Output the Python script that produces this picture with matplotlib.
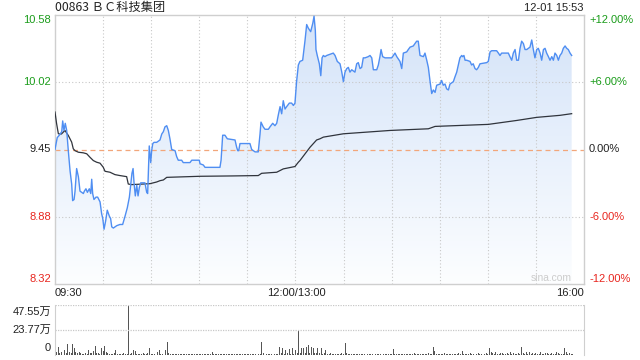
import numpy as np
import matplotlib
matplotlib.use("Agg")
import matplotlib.pyplot as plt
from matplotlib.colors import LinearSegmentedColormap

# ---------------- data ----------------
title = "00863 ＢＣ科技集团"
stamp = "12-01 15:53"
prev_close = 9.45
price_ticks = [10.58, 10.02, 9.45, 8.88, 8.32]
pct_ticks = ["+12.00%", "+6.00%", "0.00%", "-6.00%", "-12.00%"]
time_labels = ["09:30", "12:00/13:00", "16:00"]
vol_labels = ["47.55万", "23.77万", "0"]
vol_max = 47.55

# minutes since 09:30 (trading minutes, lunch removed)
t_price = [0, 1.4, 2.7, 4.2, 4.8, 5.6, 6.4, 7.3, 8.3, 9.4, 10.4, 11, 11.9, 12.5, 13.5, 14.6,
           15.6, 16.6, 17.7, 18.3, 19.3, 20.2, 21.4, 22.3, 22.9, 23.5, 24.3, 25.6, 26.6, 28.1,
           29.1, 29.8, 30.6, 31.6, 32.6, 33.9, 34.7, 35.4, 36.4, 37.4, 38.5, 40.5, 42.2, 43.7,
           45.1, 46.4, 47.2, 48, 48.7, 49.3, 50.1, 51, 51.8, 52.6, 53.5, 54.7, 56.1, 57.2, 57.8,
           58.6, 58.8, 59.7, 60.3, 61, 61.8, 63.4, 65.5, 66.6, 67.6, 68.6, 69.7, 70.7, 71.7,
           72.8, 74.9, 75.9, 76.9, 79, 80, 84.2, 85.3, 90, 90.5, 92.5, 93.6, 102.9, 103.6, 104.6,
           106, 107.5, 112.3, 113.3, 114, 114.6, 115.4, 120.6, 121.6, 122.7, 124.8, 126.8, 127.9,
           128.5, 129.9, 131, 133.1, 134.1, 135.8, 137.2, 138.3, 139.3, 140.4, 141.4, 142.4,
           143.5, 144.5, 146.2, 147.6, 148.7, 149.7, 150.7, 151.8, 152.8, 154.5, 156, 157, 158,
           159.5, 160.8, 161.6, 162.4, 162.8, 163.6, 164.9, 165.8, 166.6, 167.4, 168.4, 169.5,
           173.6, 174.7, 176.1, 177.8, 178.9, 179.9, 180.9, 182, 183, 184, 185.1, 187.1, 188.2,
           189.2, 190.3, 191.3, 192.3, 193.4, 195.4, 196.5, 197.6, 198.6, 200.7, 201.7, 202.7,
           203.4, 204.4, 205.9, 210, 211.1, 212.1, 213.2, 215.2, 216.3, 217.3, 219.4, 220.4,
           221.5, 223.5, 225.6, 226.6, 227.7, 229.8, 230.8, 231.9, 232.9, 233.9, 235, 236, 237.1,
           238.1, 240.2, 241.2, 242.2, 243.3, 244.3, 245.4, 246.4, 248.5, 249.5, 250.6, 251.6,
           252.6, 253.7, 254.3, 255.1, 255.8, 256.8, 258.9, 259.9, 260.9, 262, 263, 264.1, 265.1,
           269.3, 270.3, 271.4, 272.4, 275.5, 276.6, 277.6, 278.6, 280.7, 282.8, 283.8, 284.9,
           285.9, 287, 288, 289.1, 290.1, 291.1, 292.2, 293.2, 294.3, 296.3, 297.4, 298.4, 299.4,
           300.5, 301.5, 302.6, 303.6, 304.7, 305.7, 306.7, 307.8, 308.8, 309.9, 310.9, 311.9,
           313, 314, 315, 316.1, 317.1, 318.2, 319.2, 320.2, 321.3, 322.3]
price = [9.45, 9.55, 9.57, 9.60, 9.69, 9.61, 9.67, 9.61, 9.44, 9.27, 9.16, 9.02, 9.03, 9.10, 9.29, 9.22,
         9.10, 9.09, 9.08, 9.10, 9.12, 9.09, 9.12, 9.08, 9.20, 9.08, 9.03, 9.05, 9.05, 9.01,
         8.91, 8.87, 8.78, 8.85, 8.94, 8.89, 8.87, 8.80, 8.79, 8.80, 8.81, 8.82, 8.82, 8.89,
         8.96, 9.05, 9.15, 9.25, 9.29, 9.17, 9.06, 9.15, 9.06, 9.13, 9.17, 9.17, 9.17, 9.09, 9.08,
         9.41, 9.48, 9.34, 9.44, 9.50, 9.51, 9.51, 9.53, 9.58, 9.60, 9.64, 9.65, 9.61, 9.54,
         9.45, 9.44, 9.39, 9.36, 9.36, 9.34, 9.34, 9.36, 9.36, 9.33, 9.32, 9.30, 9.30, 9.36, 9.57,
         9.57, 9.54, 9.53, 9.47, 9.44, 9.44, 9.50, 9.50, 9.50, 9.45, 9.43, 9.43, 9.58,
         9.68, 9.64, 9.62, 9.62, 9.64, 9.67, 9.65, 9.67, 9.74, 9.81, 9.75, 9.86,
         9.79, 9.81, 9.84, 9.84, 9.82, 9.84, 10.02, 10.16, 10.19, 10.20, 10.37, 10.50, 10.47,
         10.44, 10.51, 10.57, 10.45, 10.29, 10.24, 10.17, 10.07, 10.22, 10.24, 10.23, 10.24,
         10.26, 10.24, 10.19, 10.17, 10.10, 10.02, 10.10, 10.13, 10.14, 10.10, 10.12, 10.10, 10.17,
         10.18, 10.13, 10.14, 10.22, 10.22, 10.23, 10.24, 10.22, 10.12, 10.12, 10.16, 10.23,
         10.29, 10.23, 10.22, 10.22, 10.24, 10.26, 10.23, 10.19, 10.13, 10.26, 10.27, 10.29,
         10.31, 10.32, 10.36, 10.36, 10.24, 10.23, 10.26, 10.20, 10.14, 10.03, 9.92, 9.95, 9.93,
         9.99, 10.00, 10.03, 9.99, 10.00, 9.96, 9.95, 10.00, 10.02, 10.06, 10.10, 10.16,
         10.22, 10.24, 10.23, 10.24, 10.20, 10.20, 10.19, 10.16, 10.17, 10.13, 10.12, 10.14, 10.17,
         10.18, 10.19, 10.27, 10.28, 10.28, 10.26, 10.24, 10.26, 10.26, 10.26, 10.23, 10.20,
         10.26, 10.29, 10.20, 10.20, 10.30, 10.36, 10.34, 10.29, 10.29, 10.31, 10.37, 10.29, 10.22,
         10.29, 10.30, 10.26, 10.20, 10.29, 10.30, 10.26, 10.23, 10.20, 10.23, 10.20, 10.26,
         10.24, 10.20, 10.24, 10.26, 10.30, 10.32, 10.30, 10.29, 10.26, 10.24]

t_avg = [0, 1, 2.1, 4, 6.2, 8.3, 10.4, 11.4, 12.5, 14.6, 17.7, 19.8, 21.8, 23.9, 26, 28.1, 30.1,
         31.2, 34.3, 37.4, 40.5, 44.7, 45.7, 47.8, 55.1, 59.3, 63.4, 65.5, 67.6, 69.7, 90.5,
         111.2, 126.8, 128.9, 138.3, 142.4, 149.7, 151.8, 152.8, 159.1, 163.2, 165.3, 167.4,
         179.9, 209, 232.9, 237.1, 270.3, 288, 300.5, 315, 322.3]
avg_price = [9.765, 9.667, 9.582, 9.58, 9.61, 9.568, 9.512, 9.456, 9.44, 9.427, 9.422, 9.414,
             9.385, 9.357, 9.343, 9.335, 9.301, 9.267, 9.259, 9.239, 9.231, 9.222, 9.16, 9.155,
             9.16, 9.163, 9.177, 9.188, 9.194, 9.216, 9.225, 9.228, 9.231, 9.25, 9.259, 9.287,
             9.307, 9.343, 9.357, 9.469, 9.53, 9.54, 9.554, 9.582, 9.61, 9.624, 9.644, 9.661,
             9.694, 9.72, 9.737, 9.751]

# volume per minute (万股), minutes 0..323
volume = [
    4.8, 3.0, 7.3, 2.0, 2.5, 10.5, 5.0, 2.0, 10.5, 3.0, 1.5, 10.5, 7.0, 2.5, 1.5, 3.0, 1.5, 1.2, 1.0, 1.5, 1.2, 5.0, 2.0, 2.0, 4.0, 8.5, 2.0, 1.5, 1.2, 7.0,
    3.5, 8.5, 2.5, 1.5, 1.0, 1.2, 1.0, 1.5, 4.8, 1.2, 1.0, 1.2, 1.0, 1.5, 1.0, 1.2, 47.55, 1.0, 1.5, 4.8, 3.5, 1.0, 1.2, 1.0, 1.0, 1.5, 1.0, 1.2, 1.5, 6.6,
    1.0, 1.2, 1.0, 3.0, 3.0, 4.8, 1.0, 1.2, 1.0, 4.8, 12.7, 2.0, 1.2, 1.0, 1.2, 0.8, 1.0, 1.0, 1.2, 1.0, 0.8, 1.0, 1.2, 1.0, 1.0, 0.8, 1.0, 1.2, 1.0, 1.0,
    1.0, 0.8, 1.0, 1.2, 1.0, 1.0, 0.8, 1.2, 2.5, 1.0, 1.0, 0.8, 1.0, 1.2, 1.0, 0.8, 1.0, 1.0, 1.2, 0.8, 1.0, 1.0, 1.2, 1.0, 0.8, 1.0, 1.0, 1.2, 1.0, 1.0,
    1.0, 1.2, 0.8, 1.0, 1.0, 1.2, 1.0, 0.8, 1.0, 12.7, 1.5, 1.0, 1.2, 1.0, 0.8, 1.0, 1.2, 1.0, 1.0, 1.2, 7.9, 1.5, 6.3, 1.2, 4.8, 1.5, 5.4, 1.2, 6.3, 1.2,
    4.8, 1.5, 23.8, 1.5, 6.3, 6.3, 1.5, 7.9, 9.5, 1.5, 7.9, 6.3, 1.5, 2.0, 6.3, 1.5, 6.3, 1.2, 1.5, 4.8, 1.2, 1.0, 1.5, 1.0, 1.2, 1.0, 1.0, 1.2, 1.0, 1.5,
    1.2, 11.1, 2.0, 1.0, 1.2, 1.0, 0.8, 1.0, 1.2, 1.0, 1.0, 0.8, 1.0, 1.2, 1.0, 1.0, 0.8, 1.0, 1.2, 1.0, 1.0, 1.2, 0.8, 1.0, 1.0, 1.2, 1.0, 0.8, 1.0, 1.2,
    1.0, 5.7, 1.2, 1.0, 0.8, 1.0, 1.2, 1.0, 1.0, 0.8, 1.0, 1.2, 1.0, 1.0, 1.5, 1.0, 1.2, 1.0, 0.8, 1.0, 1.2, 1.0, 1.0, 1.5, 1.2, 1.0, 7.9, 3.5, 1.2, 1.0,
    1.2, 1.0, 1.0, 1.5, 1.2, 1.0, 1.0, 1.2, 1.0, 1.0, 1.2, 1.0, 1.5, 1.0, 3.8, 1.2, 1.0, 1.0, 1.2, 1.5, 1.0, 1.2, 1.0, 1.0, 1.5, 1.2, 1.0, 1.0, 1.2, 1.5,
    1.2, 6.3, 3.0, 1.5, 1.2, 2.5, 1.0, 1.2, 2.0, 1.5, 1.2, 1.0, 1.5, 1.2, 3.0, 1.0, 1.5, 1.2, 1.0, 1.5, 1.2, 7.3, 1.5, 1.2, 2.5, 1.0, 3.0, 1.2, 2.0, 1.0,
    1.5, 1.2, 1.0, 2.5, 1.2, 1.0, 2.0, 1.5, 1.2, 1.0, 2.0, 1.2, 1.0, 2.5, 1.5, 1.2, 1.0, 1.2, 7.0, 3.0, 1.2, 1.5, 1.0, 1.2,
]

# ---------------- style ----------------
W, H = 640, 360
GREEN = "#1a9c1a"
RED = "#e8261f"
DARK = "#222222"
GRID = "#c8c8c8"
BORDER = "#cfcfcf"
LINE = "#4f8ef2"
FS = 8.0
NUM_FONT = ["Liberation Sans", "Noto Sans CJK SC", "DejaVu Sans"]
plt.rcParams["font.family"] = NUM_FONT

fig = plt.figure(figsize=(W / 100, H / 100), dpi=100)
fig.patch.set_facecolor("white")

def px_axes(x0, y0, x1, y1):
    return fig.add_axes([x0 / W, 1 - y1 / H, (x1 - x0) / W, (y1 - y0) / H])

def ftext(x, y, s, **kw):
    fig.text(x / W, 1 - y / H, s, **kw)

T_END = 330
pmin, pmax = price_ticks[-1], price_ticks[0]

# ---------------- main price panel ----------------
ax = px_axes(55, 15, 584, 284)
ax.set_xlim(0, T_END)
ax.set_ylim(pmin, pmax)
ax.set_xticks([])
ax.set_yticks([])
for s in ax.spines.values():
    s.set_color(BORDER)
    s.set_linewidth(1.0)

for tv in range(30, T_END, 30):
    ax.axvline(tv, color=GRID, lw=0.8, ls=(0, (1, 2)), zorder=1)
for pv in (price_ticks[1], price_ticks[3]):
    ax.axhline(pv, color=GRID, lw=0.8, ls=(0, (1, 2)), zorder=1)

# gradient fill under the price line
cmap = LinearSegmentedColormap.from_list("g", [(0.99, 0.995, 1.0), (0.83, 0.89, 0.975)])
grad = np.linspace(0, 1, 256).reshape(-1, 1)
im = ax.imshow(grad, cmap=cmap, extent=(0, T_END, pmin, pmax), origin="lower",
               aspect="auto", zorder=0.5, interpolation="bilinear")
poly = ax.fill_between(t_price, price, pmin, color="none", lw=0)
im.set_clip_path(poly.get_paths()[0], transform=ax.transData)

ax.axhline(prev_close, color="#f2a67a", lw=0.9, ls=(0, (4, 3)), zorder=2)
ax.plot(t_price, price, color=LINE, lw=1.0, zorder=4)
ax.plot(t_avg, avg_price, color="#30343c", lw=0.9, zorder=3)

# y labels (left prices, right percentages)
ylab_pos = [20, 82, 149, 217, 279]
colors = [GREEN, GREEN, DARK, RED, RED]
for v, y, c, pct in zip(price_ticks, ylab_pos, colors, pct_ticks):
    ftext(51, y, f"{v:.2f}", ha="right", va="center", fontsize=FS, color=c)
    ftext(589, y, pct, ha="left", va="center", fontsize=FS, color=c)

# x labels
ftext(55, 293, time_labels[0], ha="left", va="center", fontsize=FS, color=DARK)
ftext(296, 293, time_labels[1], ha="center", va="center", fontsize=FS, color=DARK)
ftext(584, 293, time_labels[2], ha="right", va="center", fontsize=FS, color=DARK)

# header
ftext(55, 7, title, ha="left", va="center", fontsize=8.8, color=DARK,
      family=["Noto Sans CJK SC", "DejaVu Sans"])
ftext(584, 8, stamp, ha="right", va="center", fontsize=FS, color=DARK)

# watermark
ftext(572, 278, "sina.com", ha="right", va="center", fontsize=7.4, color="#cccccc")

# ---------------- volume panel ----------------
av = px_axes(55, 305, 584, 355)
av.set_xlim(0, T_END)
av.set_ylim(0, vol_max)
av.set_xticks([])
av.set_yticks([])
for side in ("left", "right"):
    av.spines[side].set_color(BORDER)
av.spines["bottom"].set_visible(False)
av.spines["top"].set_visible(False)
av.axhline(vol_max, color=GRID, lw=0.9, ls=(0, (1, 1)))
av.axhline(vol_max / 2, color=GRID, lw=0.9, ls=(0, (1, 1)))
av.bar(np.arange(len(volume)), volume, width=0.6, color="#555555", lw=0)

vlab_y = [312, 330, 348]
for s, y in zip(vol_labels, vlab_y):
    ftext(51, y, s, ha="right", va="center", fontsize=FS, color=DARK,
          family=["Liberation Sans", "Noto Sans CJK SC"])

fig.savefig("out.png", dpi=100, facecolor="white")
